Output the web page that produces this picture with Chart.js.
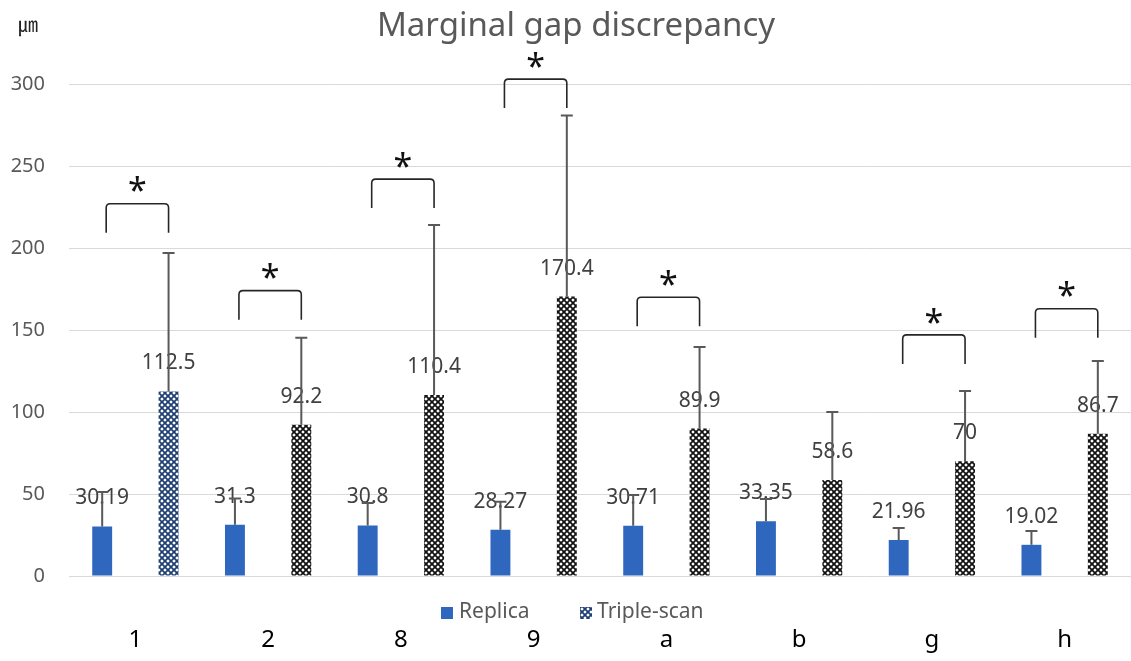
<!DOCTYPE html>
<html>
<head>
<meta charset="utf-8">
<script src="https://cdn.jsdelivr.net/npm/chart.js@4.4.1/dist/chart.umd.min.js"></script>
<style>
  html, body { margin: 0; padding: 0; background: #fff; }
  #wrap { width: 1131px; height: 661px; position: relative; }
</style>
</head>
<body>
<div id="wrap"><canvas id="chart"></canvas></div>
<script>
const categories = ['1', '2', '8', '9', 'a', 'b', 'g', 'h'];
const replica = [30.19, 31.3, 30.8, 28.27, 30.71, 33.35, 21.96, 19.02];
const tripleScan = [112.5, 92.2, 110.4, 170.4, 89.9, 58.6, 70, 86.7];
const replicaSD = [21, 16, 13.7, 17, 18.7, 13.6, 7.3, 8.4];
const tripleScanSD = [84.5, 53, 103.6, 110.4, 49.7, 41.4, 42.8, 44.4];
// height of the significance bracket (top line) per category, null = none
const bracketTop = [227, 174, 242, 303, 170, null, 147, 163];
const yTicks = [0, 50, 100, 150, 200, 250, 300];

const FONT = '"Noto Sans", "Noto Sans CJK KR", sans-serif';
const GRAY = '#595959';
const BLUE = '#2F66BE';

function makePattern(color) {
  const c = document.createElement('canvas');
  c.width = 6; c.height = 6;
  const g = c.getContext('2d');
  g.fillStyle = '#fff';
  g.fillRect(0, 0, 6, 6);
  g.strokeStyle = color;
  g.lineWidth = 1.75;
  g.beginPath();
  g.moveTo(-1, -1); g.lineTo(7, 7);
  g.moveTo(7, -1); g.lineTo(-1, 7);
  g.stroke();
  return g.createPattern(c, 'repeat');
}
const ctx0 = document.getElementById('chart').getContext('2d');
const bluePattern = makePattern('#1F3F73');
const blackPattern = makePattern('#111');
const tripleFills = tripleScan.map((v, i) => i === 0 ? bluePattern : blackPattern);

const extras = {
  id: 'extras',
  afterDatasetsDraw(chart) {
    const ctx = chart.ctx;
    const y = chart.scales.y;
    const sds = [replicaSD, tripleScanSD];
    ctx.save();
    // data labels
    ctx.font = '21px ' + FONT;
    ctx.fillStyle = '#404040';
    ctx.textAlign = 'center';
    ctx.textBaseline = 'middle';
    chart.data.datasets.forEach((ds, di) => {
      chart.getDatasetMeta(di).data.forEach((bar, i) => {
        ctx.fillText(String(ds.data[i]), bar.x, bar.y - 28);
      });
    });
    // error bars
    ctx.strokeStyle = GRAY;
    ctx.lineWidth = 2;
    chart.data.datasets.forEach((ds, di) => {
      chart.getDatasetMeta(di).data.forEach((bar, i) => {
        const top = y.getPixelForValue(ds.data[i] + sds[di][i]);
        ctx.beginPath();
        ctx.moveTo(bar.x, bar.y);
        ctx.lineTo(bar.x, top);
        ctx.moveTo(bar.x - 6, top);
        ctx.lineTo(bar.x + 6, top);
        ctx.stroke();
      });
    });
    // significance brackets
    const m0 = chart.getDatasetMeta(0).data;
    const m1 = chart.getDatasetMeta(1).data;
    ctx.strokeStyle = '#262626';
    ctx.lineWidth = 1.6;
    ctx.fillStyle = '#111';
    ctx.font = '34px ' + FONT;
    bracketTop.forEach((b, i) => {
      if (b === null) return;
      const x1 = m0[i].x + 4, x2 = m1[i].x;
      const yt = y.getPixelForValue(b), yb = yt + 29, r = 4;
      ctx.beginPath();
      ctx.moveTo(x1, yb);
      ctx.lineTo(x1, yt + r);
      ctx.quadraticCurveTo(x1, yt, x1 + r, yt);
      ctx.lineTo(x2 - r, yt);
      ctx.quadraticCurveTo(x2, yt, x2, yt + r);
      ctx.lineTo(x2, yb);
      ctx.stroke();
      ctx.fillText('*', (x1 + x2) / 2, yt - 11);
    });
    // title and unit
    ctx.fillStyle = GRAY;
    ctx.font = '33px ' + FONT;
    ctx.fillText('Marginal gap discrepancy', 576, 27);
    ctx.font = '20px "Noto Sans CJK KR", sans-serif';
    ctx.fillStyle = '#222';
    ctx.fillText('㎛', 28, 24);
    // legend
    ctx.textAlign = 'left';
    ctx.font = '21px ' + FONT;
    ctx.fillStyle = BLUE;
    ctx.fillRect(441, 607, 12, 12);
    ctx.fillStyle = GRAY;
    ctx.fillText(chart.data.datasets[0].label, 459, 612);
    ctx.fillStyle = bluePattern;
    ctx.fillRect(580, 607, 12, 12);
    ctx.fillStyle = GRAY;
    ctx.fillText(chart.data.datasets[1].label, 597, 612);
    ctx.restore();
  }
};

new Chart(ctx0, {
  type: 'bar',
  data: {
    labels: categories,
    datasets: [
      { label: 'Replica', data: replica, backgroundColor: BLUE,
        barPercentage: 0.3, categoryPercentage: 1.0 },
      { label: 'Triple-scan', data: tripleScan, backgroundColor: tripleFills,
        barPercentage: 0.3, categoryPercentage: 1.0 }
    ]
  },
  options: {
    responsive: true,
    maintainAspectRatio: false,
    animation: false,
    layout: { padding: { top: 84, right: 0, left: 0, bottom: 0 } },
    plugins: {
      legend: { display: false },
      title: { display: false },
      tooltip: { enabled: false }
    },
    scales: {
      x: {
        grid: { display: false, drawTicks: false },
        border: { display: false },
        ticks: { color: '#000', font: { family: FONT, size: 24 }, padding: 50 },
        afterFit(s) { s.height = 85; }
      },
      y: {
        min: 0, max: 300,
        afterBuildTicks(s) { s.ticks = yTicks.map(v => ({ value: v })); },
        grid: { color: '#D9D9D9', lineWidth: 1, drawTicks: false },
        border: { display: false },
        ticks: { color: GRAY, font: { family: FONT, size: 20 }, padding: 24 },
        afterFit(s) { s.width = 69; }
      }
    }
  },
  plugins: [extras]
});
</script>
</body>
</html>
